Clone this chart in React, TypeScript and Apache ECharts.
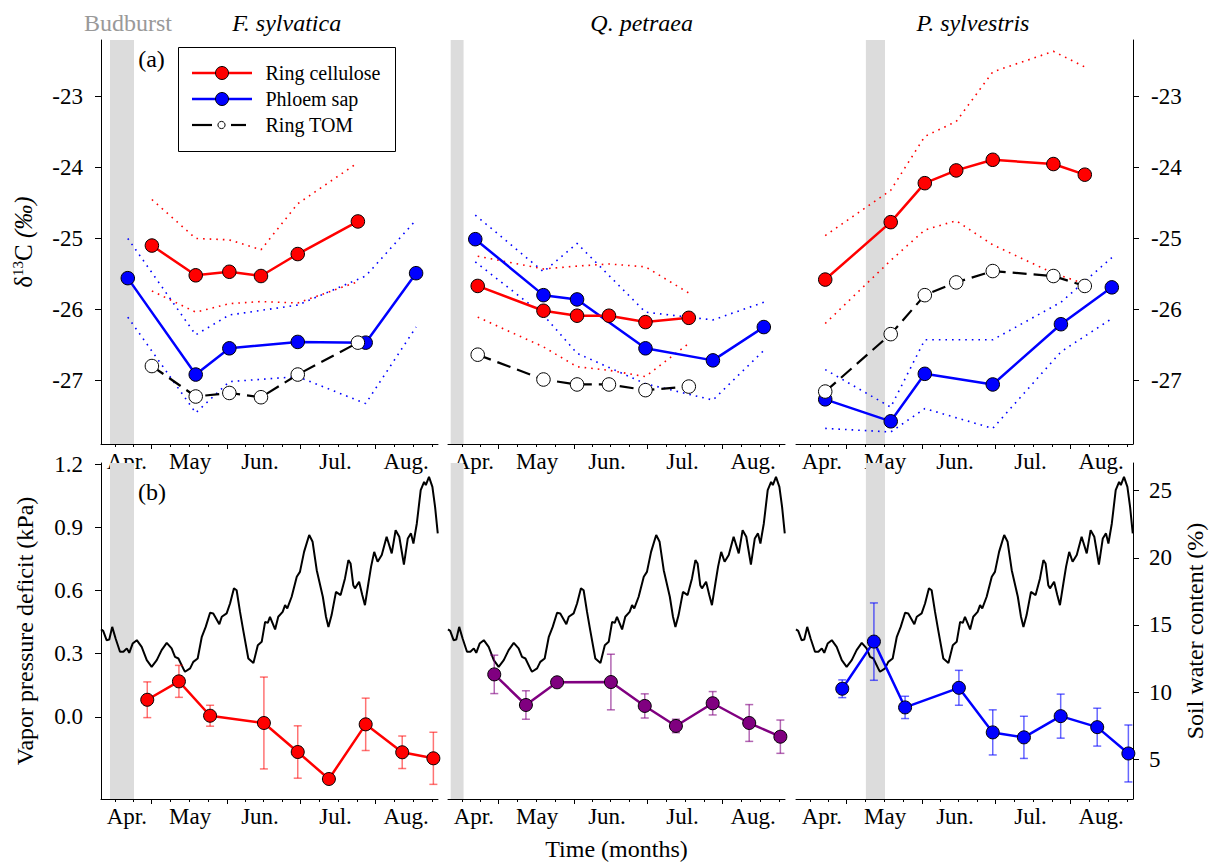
import React, { useEffect, useRef } from "react";
import * as echarts from "echarts";

const FONT = "'Liberation Serif', 'Times New Roman', serif";

// x axis: days counted from 1 April (1 May = 30, 1 Jun = 61, 1 Jul = 91, 1 Aug = 122)
const xMin = 9.2;
const xMax = 147.6;
const monthStarts = [30, 61, 91, 122];
const monthLabelDays = [19.8, 45.8, 74.5, 105.5, 134.5];
const monthNames = ["Apr.", "May", "Jun.", "Jul.", "Aug."];
const quarterTicks = [15, 22.5, 37.75, 45.5, 53.25, 68.5, 76, 83.5, 98.75, 106.5, 114.25, 129.75, 137.5, 145.25];

const species = ["F. sylvatica", "Q. petraea", "P. sylvestris"];
const budburst = [[12.9, 22.75], [10.3, 15.6], [37.9, 45.75]];

const d13cTicks = [-27, -26, -25, -24, -23];
const vpdTicks = [0, 0.3, 0.6, 0.9, 1.2];
const soilTicks = [5, 10, 15, 20, 25];

// ---- (a) δ13C ----
// F. sylvatica
const fsCellDays = [30.1, 48.1, 61.9, 74.9, 90.0, 114.7];
const fsCell = [-25.10, -25.52, -25.47, -25.53, -25.22, -24.76];
const fsCellHi = [-24.45, -25.0, -25.02, -25.16, -24.51, -23.93];
const fsCellLo = [-25.74, -26.04, -25.92, -25.89, -25.91, -25.61];
const fsPhlDays = [20.2, 48.1, 61.9, 90.0, 117.9, 138.6];
const fsPhl = [-25.56, -26.92, -26.55, -26.46, -26.47, -25.49];
const fsPhlHi = [-25.0, -26.36, -26.08, -25.94, -25.53, -24.74];
const fsPhlLo = [-26.11, -27.46, -27.02, -26.95, -27.33, -26.25];
const fsTom = [-26.80, -27.23, -27.18, -27.24, -26.92, -26.47];

// Q. petraea
const qpCellDays = [21.4, 48.4, 62.2, 75.3, 90.3, 108.1];
const qpCell = [-25.67, -26.02, -26.09, -26.09, -26.18, -26.12];
const qpCellHi = [-25.25, -25.43, -25.39, -25.36, -25.40, -25.77];
const qpCellLo = [-26.11, -26.53, -26.81, -26.86, -26.95, -26.48];
const qpPhlDays = [20.4, 48.4, 62.2, 90.3, 118.0, 138.9];
const qpPhl = [-25.01, -25.80, -25.86, -26.55, -26.72, -26.25];
const qpPhlHi = [-24.67, -25.47, -25.07, -26.04, -26.15, -25.90];
const qpPhlLo = [-25.33, -26.08, -26.62, -27.05, -27.28, -26.58];
const qpTom = [-26.64, -26.99, -27.06, -27.06, -27.14, -27.09];

// P. sylvestris
const psCellDays = [21.2, 48.1, 62.1, 75.0, 90.0, 114.9, 127.8];
const psCell = [-25.58, -24.77, -24.22, -24.04, -23.89, -23.95, -24.10];
const psCellHi = [-24.96, -24.32, -23.56, -23.35, -22.65, -22.36, -22.58];
const psCellLo = [-26.20, -25.31, -24.88, -24.75, -25.09, -25.49, -25.64];
const psPhlDays = [21.2, 48.1, 62.1, 90.0, 118.0, 138.9];
const psPhl = [-27.27, -27.58, -26.91, -27.06, -26.21, -25.69];
const psPhlHi = [-26.85, -27.38, -26.43, -26.43, -25.90, -25.27];
const psPhlLo = [-27.68, -27.73, -27.40, -27.68, -26.60, -26.13];
const psTom = [-27.16, -26.35, -25.80, -25.62, -25.46, -25.53, -25.67];

// ---- (b) VPD (daily, kPa) ----
const vpdDays = [9.2, 10.1, 11.5, 12.6, 13.8, 15.2, 17.0, 18.4, 19.8, 20.8, 22.2, 23.9, 25.9, 28.0, 30.0, 32.1, 34.1, 36.2, 38.2, 39.6,
  41.0, 43.3, 43.7, 45.8, 47.1, 48.9, 50.6, 52.2, 54.0, 55.3, 57.8, 58.8, 60.8, 62.2, 63.8, 64.9, 66.3, 67.6, 69.7, 71.8,
  73.6, 75.2, 76.6, 77.7, 78.6, 80.7, 82.0, 83.8, 84.8, 85.7, 87.5, 89.6, 90.9, 92.6, 94.7, 96.1, 97.8, 100.3, 101.6, 102.6,
  103.9, 105.7, 107.6, 109.4, 110.8, 111.7, 112.8, 113.5, 115.2, 116.5, 117.6, 119.0, 120.1, 121.4, 122.8, 124.5, 126.5, 128.6, 130.2, 131.7,
  133.6, 135.2, 136.5, 137.5, 138.9, 140.5, 141.9, 142.6, 143.9, 145.3, 146.4, 147.5];
const vpdValues = [0.415, 0.408, 0.364, 0.367, 0.427, 0.372, 0.309, 0.309, 0.325, 0.304, 0.348, 0.364, 0.332, 0.269, 0.237, 0.269, 0.317, 0.351, 0.325, 0.285,
  0.277, 0.222, 0.214, 0.230, 0.261, 0.277, 0.380, 0.427, 0.494, 0.491, 0.440, 0.475, 0.491, 0.538, 0.610, 0.601, 0.498, 0.412, 0.277, 0.256,
  0.340, 0.356, 0.451, 0.446, 0.475, 0.415, 0.475, 0.498, 0.530, 0.515, 0.570, 0.665, 0.688, 0.783, 0.863, 0.831, 0.696, 0.570, 0.475, 0.427,
  0.483, 0.593, 0.578, 0.657, 0.744, 0.728, 0.625, 0.610, 0.641, 0.578, 0.530, 0.633, 0.712, 0.783, 0.736, 0.768, 0.855, 0.776, 0.886, 0.855,
  0.723, 0.847, 0.871, 0.823, 0.918, 1.076, 1.115, 1.100, 1.139, 1.092, 0.997, 0.871];

// ---- (b) soil water content (%) ----
const soilDays = [28.2, 41.2, 54.0, 76.1, 90.0, 102.8, 117.9, 132.9, 145.7];
const fsSoil = [9.43, 10.80, 8.24, 7.70, 5.54, 3.53, 7.60, 5.52, 5.07];
const fsSoilErr = [1.33, 1.19, 0.78, 3.42, 1.95, 0.15, 1.95, 1.21, 1.94];
const qpSoil = [11.32, 9.04, 10.73, 10.75, 8.97, 7.48, 9.17, 7.70, 6.68];
const qpSoilErr = [1.43, 1.06, 0.15, 2.07, 0.90, 0.50, 0.87, 1.37, 1.24];
const psSoil = [10.25, 13.76, 8.86, 10.32, 7.00, 6.63, 8.21, 7.39, 5.43];
const psSoilErr = [0.66, 2.88, 0.83, 1.30, 1.68, 1.57, 1.64, 1.41, 2.12];

const RED = "#ff0000";
const BLUE = "#0000ff";
const PURPLE = "#800080";

const topPanels = [
  { cellDays: fsCellDays, cell: fsCell, cellHi: fsCellHi, cellLo: fsCellLo, phlDays: fsPhlDays, phl: fsPhl, phlHi: fsPhlHi, phlLo: fsPhlLo, tom: fsTom },
  { cellDays: qpCellDays, cell: qpCell, cellHi: qpCellHi, cellLo: qpCellLo, phlDays: qpPhlDays, phl: qpPhl, phlHi: qpPhlHi, phlLo: qpPhlLo, tom: qpTom },
  { cellDays: psCellDays, cell: psCell, cellHi: psCellHi, cellLo: psCellLo, phlDays: psPhlDays, phl: psPhl, phlHi: psPhlHi, phlLo: psPhlLo, tom: psTom },
];
const bottomPanels = [
  { soil: fsSoil, err: fsSoilErr, color: RED, errColor: "rgba(255,0,0,0.55)" },
  { soil: qpSoil, err: qpSoilErr, color: PURPLE, errColor: "rgba(128,0,128,0.6)" },
  { soil: psSoil, err: psSoilErr, color: BLUE, errColor: "rgba(0,0,255,0.6)" },
];

const zip = (xs: number[], ys: number[]) => xs.map((x, i) => [x, ys[i]]);

function buildOption() {
  const gridLefts = [101, 448, 796];
  const grid: any[] = [];
  gridLefts.forEach((l) => grid.push({ left: l, top: 40, width: 337, height: 404 }));
  gridLefts.forEach((l) => grid.push({ left: l, top: 463, width: 337, height: 336 }));

  const labelStyle = { fontFamily: FONT, fontSize: 23, color: "#000" };
  const nameStyle = { fontFamily: FONT, fontSize: 24, color: "#000" };

  const xAxis: any[] = [];
  for (let g = 0; g < 6; g++) {
    xAxis.push({
      type: "value",
      gridIndex: g,
      min: xMin,
      max: xMax,
      position: "bottom",
      axisLine: { show: true, onZero: false, lineStyle: { color: "#000", width: 1 } },
      axisTick: { show: true, customValues: monthStarts, length: 5, lineStyle: { color: "#000", width: 1 } },
      axisLabel: {
        show: true,
        customValues: monthLabelDays,
        margin: 6,
        ...labelStyle,
        formatter: (v: number) => {
          let best = 0;
          monthLabelDays.forEach((d, i) => {
            if (Math.abs(d - v) < Math.abs(monthLabelDays[best] - v)) best = i;
          });
          return monthNames[best];
        },
      },
      splitLine: { show: false },
      name: g === 4 ? "Time (months)" : "",
      nameLocation: "middle",
      nameGap: 38,
      nameTextStyle: nameStyle,
    });
    xAxis.push({
      type: "value",
      gridIndex: g,
      min: xMin,
      max: xMax,
      position: "bottom",
      axisLine: { show: false, onZero: false },
      axisTick: { show: true, customValues: quarterTicks, length: 3, lineStyle: { color: "#000", width: 1 } },
      axisLabel: { show: false },
      splitLine: { show: false },
    });
  }

  const yAxis: any[] = [];
  // top δ13C axes (0..2)
  for (let p = 0; p < 3; p++) {
    yAxis.push({
      type: "value",
      gridIndex: p,
      min: -27.9,
      max: -22.2,
      show: p !== 1,
      position: p === 2 ? "right" : "left",
      axisLine: { show: true, onZero: false, lineStyle: { color: "#000", width: 1 } },
      axisTick: { show: true, customValues: d13cTicks, length: 6, lineStyle: { color: "#000" } },
      axisLabel: { show: true, customValues: d13cTicks, margin: 18, ...labelStyle },
      splitLine: { show: false },
      name: p === 0 ? "{n|δ}{s|13}{n|C }{i|(‰)}" : "",
      nameLocation: "middle",
      nameRotate: 90,
      nameGap: 64,
      nameTextStyle: {
        ...nameStyle,
        rich: {
          n: { fontFamily: FONT, fontSize: 25, color: "#000" },
          s: { fontFamily: FONT, fontSize: 15, color: "#000", padding: [0, 0, 12, 0] },
          i: { fontFamily: FONT, fontSize: 25, fontStyle: "italic", color: "#000" },
        },
      },
    });
  }
  // bottom VPD axes (3..5)
  for (let p = 0; p < 3; p++) {
    yAxis.push({
      type: "value",
      gridIndex: 3 + p,
      min: -0.39,
      max: 1.205,
      show: p === 0,
      position: "left",
      axisLine: { show: true, onZero: false, lineStyle: { color: "#000", width: 1 } },
      axisTick: { show: true, customValues: vpdTicks, length: 6, lineStyle: { color: "#000" } },
      axisLabel: { show: true, customValues: vpdTicks, margin: 18, ...labelStyle, formatter: (v: number) => v.toFixed(1) },
      splitLine: { show: false },
      name: p === 0 ? "Vapor pressure deficit (kPa)" : "",
      nameLocation: "middle",
      nameRotate: 90,
      nameGap: 64,
      nameTextStyle: nameStyle,
    });
  }
  // bottom soil axes (6..8)
  for (let p = 0; p < 3; p++) {
    yAxis.push({
      type: "value",
      gridIndex: 3 + p,
      min: 2.04,
      max: 27.06,
      show: p === 2,
      position: "right",
      axisLine: { show: true, onZero: false, lineStyle: { color: "#000", width: 1 } },
      axisTick: { show: true, customValues: soilTicks, length: 6, lineStyle: { color: "#000" } },
      axisLabel: { show: true, customValues: soilTicks, margin: 16, ...labelStyle },
      splitLine: { show: false },
      name: p === 2 ? "Soil water content (%)" : "",
      nameLocation: "middle",
      nameRotate: 90,
      nameGap: 50,
      nameTextStyle: nameStyle,
    });
  }

  const series: any[] = [];
  const dotted = (color: string) => ({ color, width: 1.6, type: [1.6, 5] });
  const band = (p: number) => ({
    silent: true,
    itemStyle: { color: "#dcdcdc", opacity: 1 },
    data: [[{ xAxis: budburst[p][0] }, { xAxis: budburst[p][1] }]],
  });

  topPanels.forEach((tp, p) => {
    const axes = { xAxisIndex: 2 * p, yAxisIndex: p };
    series.push({ type: "line", name: "Ring cellulose (upper)", ...axes, data: zip(tp.cellDays, tp.cellHi), symbol: "none", lineStyle: dotted(RED), markArea: band(p), z: 2 });
    series.push({ type: "line", name: "Ring cellulose (lower)", ...axes, data: zip(tp.cellDays, tp.cellLo), symbol: "none", lineStyle: dotted(RED), z: 2 });
    series.push({ type: "line", name: "Phloem sap (upper)", ...axes, data: zip(tp.phlDays, tp.phlHi), symbol: "none", lineStyle: dotted(BLUE), z: 2 });
    series.push({ type: "line", name: "Phloem sap (lower)", ...axes, data: zip(tp.phlDays, tp.phlLo), symbol: "none", lineStyle: dotted(BLUE), z: 2 });
    series.push({
      type: "line", name: "Phloem sap", ...axes, data: zip(tp.phlDays, tp.phl),
      symbol: "circle", symbolSize: 13.5, lineStyle: { color: BLUE, width: 2.5 },
      itemStyle: { color: BLUE, borderColor: "#000", borderWidth: 1 }, z: 3,
    });
    series.push({
      type: "line", name: "Ring cellulose", ...axes, data: zip(tp.cellDays, tp.cell),
      symbol: "circle", symbolSize: 13.5, lineStyle: { color: RED, width: 2.5 },
      itemStyle: { color: RED, borderColor: "#000", borderWidth: 1 }, z: 3,
    });
    series.push({
      type: "line", name: "Ring TOM", ...axes, data: zip(tp.cellDays, tp.tom),
      symbol: "circle", symbolSize: 13.5, lineStyle: { color: "#000", width: 2.2, type: [14, 7] },
      itemStyle: { color: "#fff", borderColor: "#000", borderWidth: 1 }, z: 4,
    });
  });

  bottomPanels.forEach((bp, p) => {
    const g = 3 + p;
    series.push({
      type: "line", name: "Vapor pressure deficit", xAxisIndex: 2 * g, yAxisIndex: 3 + p,
      data: zip(vpdDays, vpdValues), symbol: "none", lineStyle: { color: "#000", width: 2 },
      markArea: band(p), z: 2,
    });
    series.push({
      type: "custom", name: "Soil water content error", xAxisIndex: 2 * g, yAxisIndex: 6 + p,
      data: soilDays.map((d, i) => [d, bp.soil[i] - bp.err[i], bp.soil[i] + bp.err[i]]),
      encode: { x: 0, y: [1, 2] },
      z: 3,
      renderItem: (params: any, api: any) => {
        const x = api.value(0);
        const a = api.coord([x, api.value(1)]);
        const b = api.coord([x, api.value(2)]);
        const style = { stroke: bp.errColor, lineWidth: 1.5 };
        return {
          type: "group",
          children: [
            { type: "line", shape: { x1: a[0], y1: a[1], x2: b[0], y2: b[1] }, style },
            { type: "line", shape: { x1: a[0] - 4, y1: a[1], x2: a[0] + 4, y2: a[1] }, style },
            { type: "line", shape: { x1: b[0] - 4, y1: b[1], x2: b[0] + 4, y2: b[1] }, style },
          ],
        };
      },
    });
    series.push({
      type: "line", name: "Soil water content", xAxisIndex: 2 * g, yAxisIndex: 6 + p,
      data: zip(soilDays, bp.soil), symbol: "circle", symbolSize: 13,
      lineStyle: { color: bp.color, width: 2.5 },
      itemStyle: { color: bp.color, borderColor: "#000", borderWidth: 1 }, z: 4,
    });
  });

  const txt = (text: string, x: number, y: number, font: string, fill = "#000", align = "center") => ({
    type: "text",
    x,
    y,
    z: 100,
    style: { text, font, fill, align, textAlign: align, verticalAlign: "middle", textVerticalAlign: "middle" },
  });

  const graphic: any[] = [];
  const titleX = [286.7, 641.7, 973];
  species.forEach((s, i) => graphic.push(txt(s, titleX[i], 23, `italic 24px ${FONT}`)));
  graphic.push(txt("Budburst", 128, 23, `24px ${FONT}`, "#999999"));
  graphic.push(txt("(a)", 151.5, 59, `24px ${FONT}`));
  graphic.push(txt("(b)", 152, 492, `24px ${FONT}`));

  // legend box
  graphic.push({ type: "rect", z: 100, shape: { x: 178.5, y: 47.5, width: 217, height: 104 }, style: { fill: "#fff", stroke: "#000", lineWidth: 1 } });
  const legendItems = [
    { name: "Ring cellulose", color: RED },
    { name: "Phloem sap", color: BLUE },
    { name: "Ring TOM", color: "#000" },
  ];
  legendItems.forEach((it, i) => {
    const cy = 73 + i * 26;
    if (i < 2) {
      graphic.push({ type: "line", z: 101, shape: { x1: 192, y1: cy, x2: 252, y2: cy }, style: { stroke: it.color, lineWidth: 2.5 } });
      graphic.push({ type: "circle", z: 102, shape: { cx: 222, cy, r: 6.5 }, style: { fill: it.color, stroke: "#000", lineWidth: 1 } });
    } else {
      graphic.push({ type: "line", z: 101, shape: { x1: 192, y1: cy, x2: 212, y2: cy }, style: { stroke: "#000", lineWidth: 2.2 } });
      graphic.push({ type: "line", z: 101, shape: { x1: 231, y1: cy, x2: 246, y2: cy }, style: { stroke: "#000", lineWidth: 2.2 } });
      graphic.push({ type: "circle", z: 102, shape: { cx: 221.5, cy, r: 3.6 }, style: { fill: "#fff", stroke: "#000", lineWidth: 1 } });
    }
    graphic.push(txt(it.name, 265.5, cy, `20px ${FONT}`, "#000", "left"));
  });

  return {
    animation: false,
    backgroundColor: "#ffffff",
    grid,
    xAxis,
    yAxis,
    series,
    graphic,
  };
}

export default function App() {
  const ref = useRef<HTMLDivElement>(null);
  useEffect(() => {
    document.body.style.margin = "0";
    if (!ref.current) return;
    const chart = echarts.init(ref.current, undefined, { renderer: "svg" });
    chart.setOption(buildOption() as any);
    return () => chart.dispose();
  }, []);
  return <div ref={ref} style={{ width: 1216, height: 863, background: "#fff" }} />;
}
